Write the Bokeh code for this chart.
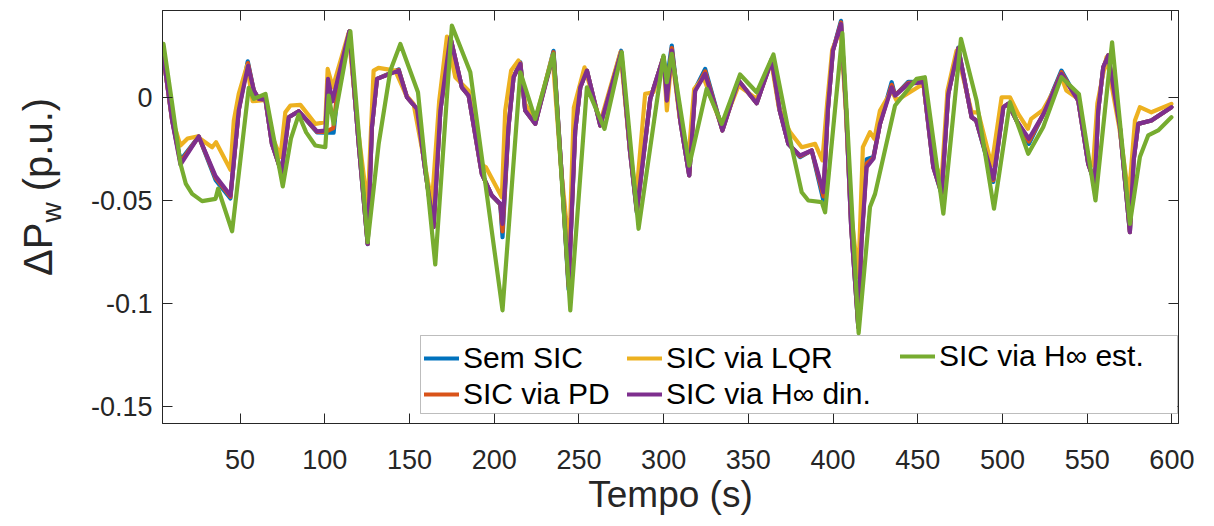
from bokeh.plotting import figure
from bokeh.models import Range1d, FixedTicker, LinearAxis, Legend, LegendItem, BoxAnnotation, Div
from bokeh.layouts import row
from bokeh.embed import file_html
from bokeh.resources import INLINE

# ---------------- data ----------------
t_din = [4.5, 9.9, 14.8, 25.6, 35.5, 44.3, 49.2, 54.7, 58.1, 61.0, 65.0, 68.8, 74.4, 78.7, 84.6,
         95.4, 100.3, 101.9, 104.5, 114.5, 120.0, 125.3, 127.8, 130.8, 143.6, 148.5, 154.4, 159.3,
         164.2, 168.2, 174.1, 180.9, 184.9, 192.7, 198.6, 203.6, 204.9, 208.4, 211.4, 215.4, 218.3,
         224.2, 235.0, 239.9, 243.9, 247.8, 250.8, 254.7, 262.6, 274.9, 280.1, 284.2, 292.1, 299.9,
         301.9, 304.8, 309.8, 315.1, 318.6, 324.5, 334.7, 344.2, 354.9, 363.8, 368.5, 373.6, 380.5,
         387.4, 394.3, 396.9, 399.9, 404.7, 407.7, 410.7, 414.9, 416.7, 419.8, 423.8, 427.7, 434.6,
         436.6, 444.4, 453.3, 459.2, 464.1, 468.0, 473.9, 481.8, 484.5, 494.6, 500.5, 503.4, 508.3,
         515.6, 524.0, 534.8, 544.7, 550.6, 554.5, 556.5, 559.5, 562.4, 569.3, 575.2, 577.4, 580.1,
         587.9, 599.7]
y_din = [0.0210, -0.0113, -0.0326, -0.0190, -0.0382, -0.0476, -0.0064, 0.0153, 0.0032, -0.0008,
         -0.0013, -0.0226, -0.0363, -0.0097, -0.0068, -0.0165, -0.0161, 0.0089, -0.0020, 0.0319,
         -0.0226, -0.0710, -0.0145, 0.0089, 0.0129, 0.0000, -0.0056, -0.0355, -0.0629, -0.0064,
         0.0290, 0.0048, 0.0008, -0.0371, -0.0476, -0.0516, -0.0613, -0.0145, 0.0097, 0.0162,
         -0.0064, -0.0129, 0.0210, -0.0387, -0.0903, -0.0161, 0.0048, 0.0129, -0.0137, 0.0218,
         -0.0258, -0.0548, -0.0008, 0.0194, -0.0016, 0.0226, -0.0113, -0.0379, 0.0030, 0.0113,
         -0.0161, 0.0081, -0.0029, 0.0178, -0.0064, -0.0226, -0.0282, -0.0258, -0.0460, -0.0064,
         0.0226, 0.0355, -0.0064, -0.0629, -0.1113, -0.0708, -0.0339, -0.0298, -0.0129, 0.0048,
         0.0008, 0.0065, 0.0073, -0.0339, -0.0460, 0.0016, 0.0234, -0.0097, -0.0113, -0.0395,
         -0.0048, -0.0032, -0.0113, -0.0201, -0.0084, 0.0113, -0.0016, -0.0322, -0.0411, -0.0064,
         0.0145, 0.0202, -0.0145, -0.0653, -0.0306, -0.0129, -0.0113, -0.0048]

t_sem = [4.5, 9.9, 14.8, 25.6, 35.5, 44.3, 49.2, 54.5, 58.1, 61.0, 65.0, 68.8, 74.4, 78.7, 84.6,
         95.4, 100.3, 105.2, 108.2, 114.5, 120.0, 125.3, 127.8, 130.8, 143.6, 148.5, 154.4, 159.3,
         164.2, 168.2, 174.1, 180.9, 184.9, 192.7, 198.6, 203.6, 204.9, 208.4, 211.4, 215.4, 218.3,
         224.2, 235.0, 239.9, 243.9, 247.8, 250.8, 254.7, 262.6, 274.9, 280.1, 284.2, 292.1, 299.9,
         301.9, 304.8, 309.8, 315.1, 318.6, 324.5, 334.7, 344.2, 354.9, 363.8, 368.5, 373.6, 380.5,
         387.4, 394.3, 396.9, 399.9, 404.7, 407.7, 410.7, 414.9, 416.7, 419.8, 423.8, 427.7, 434.6,
         436.6, 444.4, 453.3, 459.2, 464.1, 468.0, 473.9, 481.8, 484.5, 494.6, 500.5, 503.4, 508.3,
         515.6, 524.0, 534.8, 544.7, 550.6, 554.5, 556.5, 559.5, 562.4, 569.3, 575.2, 577.4, 580.1,
         587.9, 599.7]
y_sem = [0.0210, -0.0110, -0.0305, -0.0190, -0.0400, -0.0490, -0.0060, 0.0174, 0.0032, -0.0008,
         -0.0013, -0.0226, -0.0363, -0.0097, -0.0068, -0.0170, -0.0172, -0.0172, 0.0080, 0.0319,
         -0.0226, -0.0712, -0.0145, 0.0089, 0.0135, 0.0000, -0.0056, -0.0355, -0.0629, -0.0064,
         0.0290, 0.0048, 0.0008, -0.0371, -0.0476, -0.0520, -0.0678, -0.0145, 0.0097, 0.0170,
         -0.0064, -0.0129, 0.0225, -0.0387, -0.0930, -0.0161, 0.0048, 0.0129, -0.0137, 0.0225,
         -0.0258, -0.0560, -0.0008, 0.0194, 0.0081, 0.0250, -0.0113, -0.0379, 0.0040, 0.0137,
         -0.0161, 0.0081, -0.0029, 0.0185, -0.0064, -0.0226, -0.0290, -0.0258, -0.0500, -0.0064,
         0.0226, 0.0370, -0.0064, -0.0629, -0.1113, -0.0708, -0.0300, -0.0290, -0.0129, 0.0073,
         0.0008, 0.0075, 0.0073, -0.0339, -0.0470, 0.0016, 0.0240, -0.0097, -0.0113, -0.0410,
         -0.0048, -0.0032, -0.0113, -0.0226, -0.0084, 0.0129, -0.0016, -0.0322, -0.0420, -0.0064,
         0.0145, 0.0202, -0.0145, -0.0653, -0.0306, -0.0129, -0.0113, -0.0048]

t_pd = [4.5, 9.9, 14.8, 25.6, 35.5, 44.3, 49.2, 54.6, 58.1, 61.0, 65.0, 68.8, 74.4, 78.7, 84.6,
        95.4, 100.3, 105.0, 108.0, 114.5, 120.0, 125.3, 127.8, 130.8, 143.6, 148.5, 154.4, 159.3,
        164.2, 168.2, 174.1, 180.9, 184.9, 192.7, 198.6, 203.6, 204.9, 208.4, 211.4, 215.4, 218.3,
        224.2, 235.0, 239.9, 243.9, 247.8, 250.8, 254.7, 262.6, 274.9, 280.1, 284.2, 292.1, 299.9,
        301.9, 304.8, 309.8, 315.1, 318.6, 324.5, 334.7, 344.2, 354.9, 363.8, 368.5, 373.6, 380.5,
        387.4, 394.3, 396.9, 399.9, 404.7, 407.7, 410.7, 414.9, 416.7, 419.8, 423.8, 427.7, 434.6,
        436.6, 444.4, 453.3, 459.2, 464.1, 468.0, 473.9, 481.8, 484.5, 494.6, 500.5, 503.4, 508.3,
        515.6, 524.0, 534.8, 544.7, 550.6, 554.5, 556.5, 559.5, 562.4, 569.3, 575.2, 577.4, 580.1,
        587.9, 599.7]
y_pd = [0.0210, -0.0112, -0.0315, -0.0190, -0.0390, -0.0482, -0.0062, 0.0165, 0.0032, -0.0008,
        -0.0013, -0.0226, -0.0363, -0.0097, -0.0068, -0.0168, -0.0168, -0.0150, 0.0070, 0.0319,
        -0.0226, -0.0710, -0.0145, 0.0089, 0.0132, 0.0000, -0.0056, -0.0355, -0.0629, -0.0064,
        0.0290, 0.0048, 0.0008, -0.0371, -0.0476, -0.0518, -0.0650, -0.0145, 0.0097, 0.0166,
        -0.0064, -0.0129, 0.0218, -0.0387, -0.0915, -0.0161, 0.0048, 0.0129, -0.0137, 0.0220,
        -0.0258, -0.0555, -0.0008, 0.0194, 0.0030, 0.0238, -0.0113, -0.0379, 0.0035, 0.0125,
        -0.0161, 0.0081, -0.0029, 0.0180, -0.0064, -0.0226, -0.0286, -0.0258, -0.0480, -0.0064,
        0.0226, 0.0362, -0.0064, -0.0629, -0.1113, -0.0708, -0.0320, -0.0294, -0.0129, 0.0060,
        0.0008, 0.0070, 0.0073, -0.0339, -0.0465, 0.0016, 0.0237, -0.0097, -0.0113, -0.0402,
        -0.0048, -0.0032, -0.0113, -0.0214, -0.0084, 0.0121, -0.0016, -0.0322, -0.0415, -0.0064,
        0.0145, 0.0202, -0.0145, -0.0653, -0.0306, -0.0129, -0.0113, -0.0048]

t_lqr = [4.5, 9.9, 14.8, 19.0, 24.6, 33.5, 35.8, 44.3, 46.3, 49.2, 54.1, 57.4, 65.0, 68.5, 73.8,
         76.7, 79.7, 85.6, 94.4, 100.3, 101.7, 104.7, 114.0, 119.5, 125.3, 128.8, 131.7, 141.6,
         148.0, 152.4, 158.5, 163.2, 167.5, 172.1, 177.0, 184.9, 191.8, 195.1, 204.5, 206.5, 210.0,
         214.3, 218.3, 224.2, 234.4, 239.5, 244.3, 247.0, 253.3, 262.6, 274.5, 279.8, 283.8, 289.1,
         294.0, 299.9, 301.9, 304.8, 309.5, 314.7, 318.0, 323.5, 334.5, 344.2, 354.9, 363.4, 368.0,
         374.6, 381.5, 389.4, 393.7, 396.5, 399.5, 404.5, 407.5, 410.5, 414.9, 417.6, 421.8, 424.4,
         427.7, 434.6, 437.5, 453.3, 459.0, 464.1, 467.5, 472.9, 481.8, 485.7, 493.6, 499.5, 504.4,
         509.3, 515.0, 516.9, 524.0, 534.8, 537.7, 544.7, 550.6, 553.5, 556.0, 561.4, 569.0, 574.6,
         578.2, 581.1, 587.9, 599.7]
y_lqr = [0.0210, -0.0105, -0.0234, -0.0200, -0.0190, -0.0242, -0.0218, -0.0351, -0.0113, 0.0016,
         0.0153, -0.0019, -0.0013, -0.0180, -0.0290, -0.0073, -0.0040, -0.0037, -0.0129, -0.0121,
         0.0137, 0.0048, 0.0310, -0.0150, -0.0530, 0.0129, 0.0142, 0.0129, 0.0010, -0.0032,
         -0.0300, -0.0516, -0.0020, 0.0294, 0.0097, 0.0032, -0.0322, -0.0339, -0.0484, -0.0064,
         0.0130, 0.0178, -0.0032, -0.0113, 0.0202, -0.0350, -0.0742, -0.0050, 0.0145, -0.0121,
         0.0218, -0.0230, -0.0484, 0.0016, 0.0024, 0.0194, -0.0064, 0.0202, -0.0100, -0.0290,
         0.0040, 0.0097, -0.0145, 0.0056, -0.0008, 0.0178, -0.0050, -0.0169, -0.0242, -0.0226,
         -0.0306, -0.0030, 0.0230, 0.0331, -0.0060, -0.0550, -0.0871, -0.0242, -0.0169, -0.0201,
         -0.0064, 0.0032, -0.0016, 0.0065, -0.0300, -0.0395, 0.0030, 0.0226, -0.0073, -0.0073,
         -0.0331, 0.0000, 0.0000, -0.0081, -0.0153, -0.0105, -0.0061, 0.0097, 0.0032, -0.0008,
         -0.0306, -0.0331, -0.0030, 0.0194, -0.0150, -0.0484, -0.0113, -0.0048, -0.0073, -0.0032]

t_est = [4.8, 9.9, 14.8, 18.0, 21.7, 27.6, 35.5, 37.0, 45.3, 55.1, 58.1, 65.0, 75.2, 80.0, 84.6,
         89.0, 94.4, 100.3, 102.3, 105.2, 115.1, 125.3, 131.8, 138.7, 144.6, 155.0, 165.2, 175.0,
         185.9, 204.9, 215.4, 224.2, 235.0, 244.9, 254.7, 265.1, 275.3, 285.2, 299.9, 301.9, 304.8,
         315.1, 325.4, 334.3, 345.1, 354.9, 364.8, 375.6, 381.5, 385.4, 393.3, 395.3, 405.5, 415.1,
         421.8, 424.8, 436.6, 449.3, 454.2, 465.1, 475.5, 484.7, 495.0, 504.4, 515.2, 524.0, 534.8,
         545.1, 554.9, 564.7, 575.2, 581.1, 586.0, 591.9, 599.7]
y_est = [0.0258, -0.0032, -0.0322, -0.0420, -0.0468, -0.0503, -0.0492, -0.0443, -0.0649, 0.0045,
         -0.0008, 0.0016, -0.0432, -0.0200, -0.0084, -0.0170, -0.0234, -0.0242, 0.0008, -0.0129,
         0.0319, -0.0702, -0.0226, 0.0129, 0.0258, 0.0024, -0.0810, 0.0347, 0.0121, -0.1032,
         0.0121, -0.0105, 0.0210, -0.1032, 0.0048, -0.0153, 0.0218, -0.0637, 0.0202, 0.0073,
         0.0210, -0.0331, 0.0041, -0.0129, 0.0110, 0.0024, 0.0207, -0.0242, -0.0460, -0.0500,
         -0.0508, -0.0557, 0.0310, -0.1142, -0.0532, -0.0468, -0.0040, 0.0089, 0.0097, -0.0564,
         0.0283, -0.0016, -0.0540, -0.0024, -0.0274, -0.0145, 0.0097, 0.0016, -0.0500, 0.0266,
         -0.0613, -0.0290, -0.0185, -0.0161, -0.0097]

x_ticks = [50, 100, 150, 200, 250, 300, 350, 400, 450, 500, 550, 600]
y_ticks = [-0.15, -0.1, -0.05, 0]
y_tick_labels = {-0.15: "-0.15", -0.1: "-0.1", -0.05: "-0.05", 0: "0"}
series_names = ["Sem SIC", "SIC via PD", "SIC via LQR", "SIC via H\u221e din.", "SIC via H\u221e est."]
colors = ["#0072BD", "#D95319", "#EDB120", "#7E2F8E", "#77AC30"]

# ---------------- figure ----------------
FONT = "Liberation Sans"
AX = "#262626"
LEFT_DIV = 70

p = figure(frame_width=1016, frame_height=413, output_backend="svg", toolbar_location=None,
           x_range=Range1d(4.2, 603.9), y_range=Range1d(-0.158, 0.042),
           min_border_left=162 - LEFT_DIV, min_border_right=36, min_border_top=10,
           min_border_bottom=103, background_fill_color="white", border_fill_color="white",
           margin=0)
p.grid.visible = False
p.outline_line_color = AX
p.outline_line_width = 1

xs = [t_sem, t_pd, t_lqr, t_din, t_est]
ys = [y_sem, y_pd, y_lqr, y_din, y_est]
rends = []
for t, y, c in zip(xs, ys, colors):
    rends.append(p.line(t, y, line_color=c, line_width=4.2, line_join="round", line_cap="round"))

# axes
xa = p.xaxis[0]
xa.ticker = FixedTicker(ticks=x_ticks)
ya = p.yaxis[0]
ya.ticker = FixedTicker(ticks=y_ticks)
ya.major_label_overrides = y_tick_labels
for ax in (xa, ya):
    ax.major_tick_in = 10
    ax.major_tick_out = 0
    ax.minor_tick_line_color = None
    ax.axis_line_color = AX
    ax.major_tick_line_color = AX
    ax.major_label_text_color = AX
    ax.major_label_text_font = FONT
    ax.major_label_text_font_size = "27px"
xa.major_label_standoff = 26
ya.major_label_standoff = 10
xa.axis_label = "Tempo (s)"
xa.axis_label_text_font = FONT
xa.axis_label_text_font_size = "37px"
xa.axis_label_text_font_style = "normal"
xa.axis_label_text_color = AX
xa.axis_label_standoff = 2

for side, ticks in (("above", x_ticks), ("right", y_ticks)):
    ax = LinearAxis(ticker=FixedTicker(ticks=ticks), major_tick_in=10, major_tick_out=0,
                    minor_tick_line_color=None, major_label_text_font_size="1px",
                    major_label_text_color=None, major_label_standoff=0,
                    axis_line_color=AX, major_tick_line_color=AX)
    p.add_layout(ax, side)

# legend: framed box holding three columns
p.add_layout(BoxAnnotation(left=258, right=1015, bottom=10, top=88,
                           left_units="screen", right_units="screen",
                           bottom_units="screen", top_units="screen",
                           fill_color="white", fill_alpha=1.0,
                           line_color=AX, line_width=1))
leg_kw = dict(margin=0, padding=0, spacing=2, label_text_font=FONT,
              label_text_font_size="30px", label_text_color="black",
              glyph_width=35, label_standoff=4, border_line_color=None,
              background_fill_alpha=0.0)
col_items = [[0, 1], [2, 3], [4]]
col_loc = [(262, 12), (465, 12), (738, 50)]
for items, loc in zip(col_items, col_loc):
    p.add_layout(Legend(items=[LegendItem(label=series_names[i], renderers=[rends[i]]) for i in items],
                        location=loc, orientation="vertical", **leg_kw))

# y axis label (rotated HTML text with a real subscript)
ylab = Div(width=LEFT_DIV, height=526, margin=0, text=(
    '<div style="position:absolute; left:18px; top:276px; transform:rotate(-90deg); '
    'transform-origin:left top; white-space:nowrap; font-family:\'Liberation Sans\'; '
    'font-size:40px; line-height:40px; color:#262626;">'
    '\u0394P<span style="font-size:28px; position:relative; top:9px;">w</span> (p.u.)</div>'))

page = row(ylab, p, spacing=0, margin=0)
open("out.html", "w").write(file_html(page, INLINE))
